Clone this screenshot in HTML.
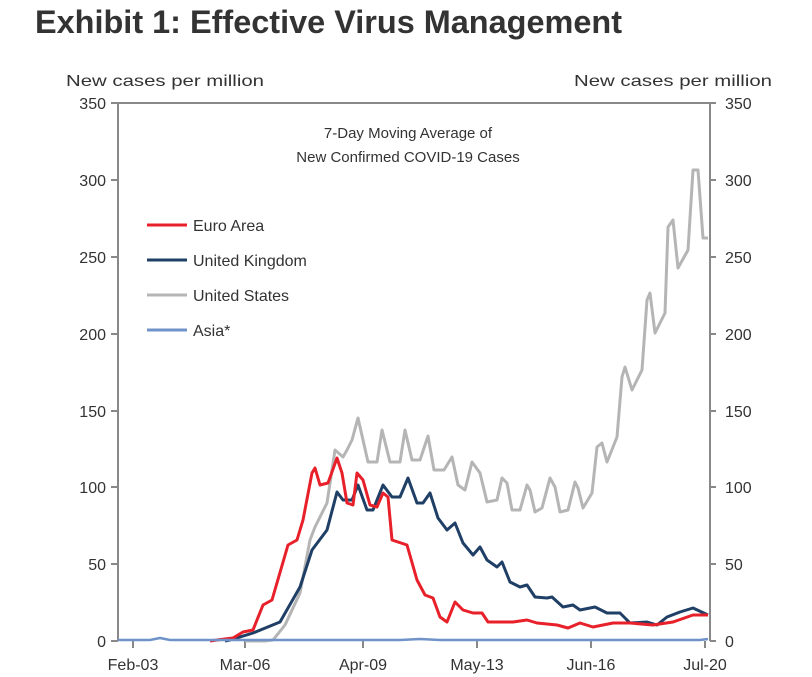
<!DOCTYPE html>
<html><head><meta charset="utf-8"><style>
html,body{margin:0;padding:0;background:#fff;}
svg{display:block;font-family:"Liberation Sans",sans-serif;}
</style></head><body>
<svg width="812" height="677" viewBox="0 0 812 677" xmlns="http://www.w3.org/2000/svg">
<text x="35" y="33" font-size="32" font-weight="bold" fill="#333" textLength="587" lengthAdjust="spacingAndGlyphs">Exhibit 1: Effective Virus Management</text>
<g fill="#333" font-size="16">
<text x="66" y="86" textLength="198" lengthAdjust="spacingAndGlyphs">New cases per million</text>
<text x="574" y="86" textLength="198" lengthAdjust="spacingAndGlyphs">New cases per million</text>
<g text-anchor="end">
<text x="106" y="109">350</text><text x="106" y="186">300</text><text x="106" y="263">250</text><text x="106" y="340">200</text><text x="106" y="417">150</text><text x="106" y="493">100</text><text x="106" y="570">50</text><text x="106" y="647">0</text>
</g>
<g>
<text x="725" y="109">350</text><text x="725" y="186">300</text><text x="725" y="263">250</text><text x="725" y="340">200</text><text x="725" y="417">150</text><text x="725" y="493">100</text><text x="725" y="570">50</text><text x="725" y="647">0</text>
</g>
<g text-anchor="middle">
<text x="133" y="670">Feb-03</text><text x="245" y="670">Mar-06</text><text x="363" y="670">Apr-09</text><text x="477" y="670">May-13</text><text x="591" y="670">Jun-16</text><text x="705" y="670">Jul-20</text>
</g>
<text x="408" y="138" text-anchor="middle" font-size="15">7-Day Moving Average of</text>
<text x="408" y="162" text-anchor="middle" font-size="15">New Confirmed COVID-19 Cases</text>
<text x="193" y="231">Euro Area</text>
<text x="193" y="266">United Kingdom</text>
<text x="193" y="301">United States</text>
<text x="193" y="336">Asia*</text>
</g>
<g stroke="#888" stroke-width="2" fill="none">
<path d="M111 103H716M118 103V641M710 103V641"/>
<path d="M111 180H118M111 257H118M111 334H118M111 411H118M111 487H118M111 564H118M111 641H118"/>
<path d="M710 180H716M710 257H716M710 334H716M710 411H716M710 487H716M710 564H716M710 641H716"/>
<path d="M133 641V648M245 641V648M363 641V648M477 641V648M591 641V648M705 641V648"/>
</g>
<g fill="none" stroke-width="3" stroke-linejoin="round">
<line x1="147" y1="225" x2="187" y2="225" stroke="#e8202a"/>
<line x1="147" y1="260" x2="187" y2="260" stroke="#1f3f66"/>
<line x1="147" y1="295" x2="187" y2="295" stroke="#b5b5b5"/>
<line x1="147" y1="330" x2="187" y2="330" stroke="#6f93c8"/>
<path stroke="#b5b5b5" d="M245 641L265 641L273 640L285 625L300 593L310 540L315 527L327 503L335 450L343 457L347 450L352 440L358 418L363 440L368 462L377 462L382 430L390 462L400 462L405 430L412 460L420 460L428 436L434 470L444 470L452 457L458 485L465 490L472 462L480 473L487 502L497 500L502 478L507 483L512 510L520 510L527 485L530 490L535 512L542 508L550 478L555 487L560 512L568 510L575 482L578 488L583 508L592 493L597 447L602 443L607 462L617 437L622 377L625 367L632 390L642 370L647 300L650 293L655 333L665 313L668 227L673 220L678 268L688 250L693 170L698 170L703 238L708 238"/>
<path stroke="#1f3f66" d="M225 641L230 640L253 633L280 622L300 587L312 550L327 530L337 492L343 500L352 500L358 485L367 510L373 510L383 485L392 497L400 497L408 478L417 503L423 503L430 493L438 518L447 530L455 523L463 543L473 555L480 547L487 560L497 567L502 562L510 582L520 587L527 585L535 597L547 598L552 597L563 607L573 605L580 610L595 607L607 613L620 613L630 623L647 622L657 625L667 617L680 612L693 608L708 615"/>
<path stroke="#e8202a" d="M210 641L217 640L233 638L243 632L253 630L263 605L272 600L288 545L297 540L303 520L312 473L315 468L320 485L328 483L337 458L342 473L347 503L353 505L357 473L363 480L370 505L377 507L383 493L388 497L392 540L407 545L417 580L425 595L433 598L440 617L447 622L455 602L463 610L473 613L482 613L488 622L500 622L513 622L527 620L537 623L557 625L568 628L580 623L593 627L613 623L630 623L653 625L673 622L693 615L708 615"/>
<path stroke="#6f93c8" stroke-width="2.5" d="M118 640L150 640L160 638L170 640L400 640L420 639L440 640L700 640L708 639"/>
</g>
</svg>
</body></html>
